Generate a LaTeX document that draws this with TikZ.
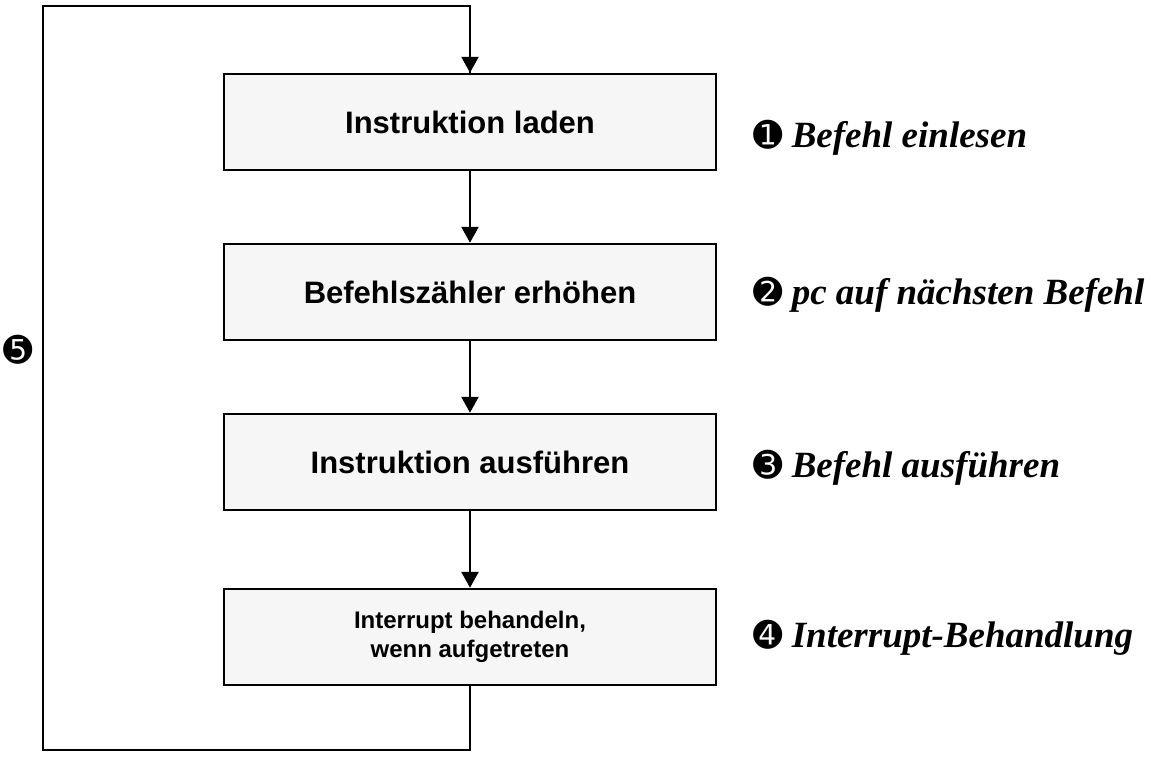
\documentclass[tikz,border=0pt]{standalone}
\usepackage{fontspec}
\setmainfont{Liberation Serif}
\newfontfamily\boxfont{Liberation Sans}
\newfontfamily\dingfont{DejaVu Sans}
\usetikzlibrary{arrows.meta}
\newcommand{\dnum}[1]{{\dingfont\fontsize{35}{35}\selectfont #1}}
\begin{document}
\begin{tikzpicture}[x=1pt,y=-1pt,
  stepbox/.style={draw=black, line width=2.5pt, fill=gray!7, minimum width=492pt, minimum height=96pt, inner sep=0pt, font=\boxfont\bfseries\fontsize{31}{36}\selectfont, align=center},
  smallbox/.style={stepbox, font=\boxfont\bfseries\fontsize{24}{29}\selectfont},
  conn/.style={line width=2.5pt, -{Triangle[width=17pt,length=16pt]}},
  plain/.style={line width=2.5pt},
  lbl/.style={anchor=base west, inner sep=0pt, font=\fontsize{37}{44}\selectfont\bfseries\itshape}]
\useasboundingbox (0,0) rectangle (1154,756);
\node[stepbox] (b1) at (470,122) {Instruktion laden};
\node[stepbox] (b2) at (470,292) {Befehlszähler erhöhen};
\node[stepbox] (b3) at (470,462) {Instruktion ausführen};
\node[smallbox] (b4) at (470,637) {Interrupt behandeln,\\wenn aufgetreten};
\draw[conn] (b1) -- (b2);
\draw[conn] (b2) -- (b3);
\draw[conn] (b3) -- (b4);
\coordinate (c1) at (470,750);
\coordinate (c2) at (43,750);
\coordinate (c3) at (43,6);
\coordinate (c4) at (470,6);
\draw[plain, line join=miter] (b4.south) -- (c1) -- (c2) -- (c3) -- (c4) -- (b1.north);
\draw[conn] (c4) -- (b1.north);
\node[lbl] (l1) at (753,147) {\dnum{➊} Befehl einlesen};
\node[lbl] (l2) at (753,304) {\dnum{➋} pc auf nächsten Befehl};
\node[lbl] (l3) at (753,477) {\dnum{➌} Befehl ausführen};
\node[lbl] (l4) at (753,647) {\dnum{➍} Interrupt-Behandlung};
\node[inner sep=0pt] (n5) at (18,350) {\dnum{➎}};
\end{tikzpicture}
\end{document}
